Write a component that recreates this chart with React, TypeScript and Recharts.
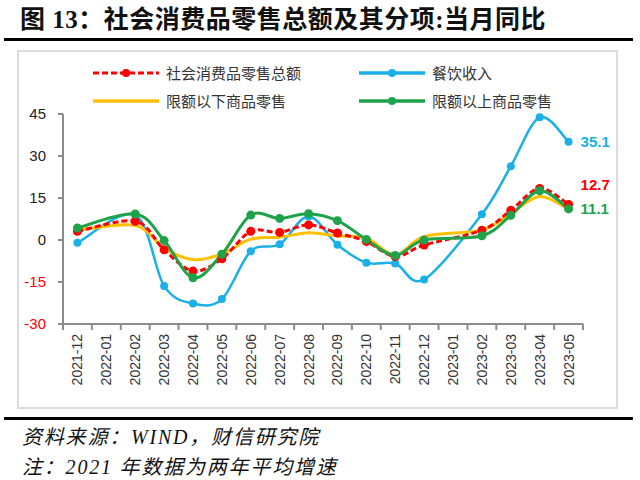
import React from "react";
import { LineChart, Line, XAxis, YAxis } from "recharts";

const months = [
  "2021-12", "2022-01", "2022-02", "2022-03", "2022-04", "2022-05",
  "2022-06", "2022-07", "2022-08", "2022-09", "2022-10", "2022-11",
  "2022-12", "2023-01", "2023-02", "2023-03", "2023-04", "2023-05",
];

// 社会消费品零售总额
const retailTotal = [3.1, null, 6.7, -3.5, -11.1, -6.7, 3.1, 2.7, 5.4, 2.5, -0.5, -5.9, -1.8, null, 3.5, 10.6, 18.4, 12.7];
// 餐饮收入
const catering = [-1.0, null, 8.9, -16.4, -22.7, -21.1, -4.0, -1.5, 8.4, -1.7, -8.1, -8.4, -14.1, null, 9.2, 26.3, 43.8, 35.1];
// 限额以下商品零售
const belowQuota = [3.5, null, 5.2, -3.0, -7.0, -5.0, 0.3, 1.0, 2.6, 1.4, 0.7, -5.4, 1.2, null, 3.6, 9.5, 15.5, 11.0];
// 限额以上商品零售
const aboveQuota = [4.3, null, 9.3, -0.2, -13.5, -5.1, 8.9, 7.7, 9.4, 6.9, 0.2, -5.5, 0.0, null, 1.5, 8.8, 17.6, 11.1];

const yTicks = [-30, -15, 0, 15, 30, 45];

const data = months.map((m, i) => ({
  month: m,
  retailTotal: retailTotal[i],
  catering: catering[i],
  belowQuota: belowQuota[i],
  aboveQuota: aboveQuota[i],
}));

const RED = "#FF0000";
const BLUE = "#1AAFE6";
const YELLOW = "#FFC000";
const GREEN = "#1FA34A";
const AXIS = "#8C8C8C";

const CHART_W = 640;
const CHART_H = 480;
const MARGIN = { top: 114, right: 57, bottom: 96, left: 18 };
const Y_AXIS_W = 45;
const PLOT_W = CHART_W - MARGIN.left - MARGIN.right - Y_AXIS_W;
const BAND = PLOT_W / months.length;
const LAST = months.length - 1;

// Excel-style smoothed line (Catmull-Rom through the points)
const smoothCurve = (ctx: any) => {
  let pts: number[][] = [];
  return {
    areaStart() {},
    areaEnd() {},
    lineStart() {
      pts = [];
    },
    point(x: number, y: number) {
      pts.push([+x, +y]);
    },
    lineEnd() {
      if (!pts.length) return;
      ctx.moveTo(pts[0][0], pts[0][1]);
      for (let i = 0; i < pts.length - 1; i++) {
        const p0 = pts[i - 1] || pts[i];
        const p1 = pts[i];
        const p2 = pts[i + 1];
        const p3 = pts[i + 2] || p2;
        ctx.bezierCurveTo(
          p1[0] + (p2[0] - p0[0]) / 6,
          p1[1] + (p2[1] - p0[1]) / 6,
          p2[0] - (p3[0] - p1[0]) / 6,
          p2[1] - (p3[1] - p1[1]) / 6,
          p2[0],
          p2[1]
        );
      }
    },
  };
};

const XTick = (props: any) => {
  const { x, y, payload, index } = props;
  return (
    <g>
      <line x1={x - BAND / 2} x2={x - BAND / 2} y1={y} y2={y + 6} stroke={AXIS} strokeWidth={2} />
      {index === LAST && (
        <line x1={x + BAND / 2} x2={x + BAND / 2} y1={y} y2={y + 6} stroke={AXIS} strokeWidth={2} />
      )}
      <text
        transform={`translate(${x + 5},${y + 10}) rotate(-90)`}
        textAnchor="end"
        fontSize={14}
        fill="#333"
        fontFamily='"Liberation Sans", Arial, sans-serif'
      >
        {payload.value}
      </text>
    </g>
  );
};

const YTick = (props: any) => {
  const { x, y, payload } = props;
  return (
    <text
      x={x - 10}
      y={y}
      dy={5}
      textAnchor="end"
      fontSize={15}
      fill={payload.value < 0 ? RED : "#222"}
      fontFamily='"Liberation Sans", Arial, sans-serif'
    >
      {payload.value}
    </text>
  );
};

const endLabel = (color: string, dy: number) => (props: any) => {
  const { x, y, value, index } = props;
  if (index !== LAST || value == null) return null;
  return (
    <text
      x={x + 12}
      y={y + dy}
      dy={5}
      fontSize={15}
      fontWeight="bold"
      fill={color}
      fontFamily='"Liberation Sans", Arial, sans-serif'
    >
      {value.toFixed(1)}
    </text>
  );
};

const LegendItem = ({ left, top, color, dashed, dot, text }: any) => (
  <div style={{ position: "absolute", left, top, display: "flex", alignItems: "center" }}>
    <svg width={68} height={10}>
      <line
        x1={1}
        x2={67}
        y1={5}
        y2={5}
        stroke={color}
        strokeWidth={dashed ? 3 : 3.5}
        strokeDasharray={dashed ? "6 3" : undefined}
      />
      {dot && <circle cx={34} cy={5} r={4} fill={color} />}
    </svg>
    <span
      style={{
        marginLeft: 6,
        fontSize: 15,
        color: "#333",
        fontFamily: '"Noto Sans CJK SC", sans-serif',
        whiteSpace: "nowrap",
      }}
    >
      {text}
    </span>
  </div>
);

export default function App() {
  return (
    <div
      style={{
        position: "fixed",
        left: 0,
        top: 0,
        width: CHART_W,
        height: CHART_H,
        background: "#fff",
        overflow: "hidden",
      }}
    >
      <div
        style={{
          position: "absolute",
          left: 20,
          top: 4,
          fontSize: 25,
          fontWeight: "bold",
          color: "#111",
          fontFamily: '"Liberation Serif", "Noto Sans CJK SC", serif',
          whiteSpace: "nowrap",
          lineHeight: "32px",
          letterSpacing: 0.5,
        }}
      >
        图 13：社会消费品零售总额及其分项:当月同比
      </div>
      <div style={{ position: "absolute", left: 4, top: 38, width: 629, height: 3, background: "#000" }} />
      <div
        style={{
          position: "absolute",
          left: 17,
          top: 50,
          width: 597,
          height: 355,
          border: "2px solid #DCDCDC",
        }}
      />
      <div style={{ position: "absolute", left: 4, top: 417, width: 629, height: 3, background: "#000" }} />

      <LegendItem left={92} top={62} color={RED} dashed dot text="社会消费品零售总额" />
      <LegendItem left={358} top={62} color={BLUE} dot text="餐饮收入" />
      <LegendItem left={92} top={90} color={YELLOW} text="限额以下商品零售" />
      <LegendItem left={358} top={90} color={GREEN} dot text="限额以上商品零售" />

      <div style={{ position: "absolute", left: 0, top: 0 }}>
        <LineChart width={CHART_W} height={CHART_H} data={data} margin={MARGIN}>
          <XAxis
            dataKey="month"
            interval={0}
            padding={{ left: BAND / 2, right: BAND / 2 }}
            tickLine={false}
            tickSize={0}
            tickMargin={0}
            height={60}
            stroke={AXIS}
            strokeWidth={2}
            tick={<XTick />}
          />
          <YAxis
            width={Y_AXIS_W}
            domain={[-30, 45]}
            ticks={yTicks}
            interval={0}
            stroke={AXIS}
            strokeWidth={2}
            tickSize={5}
            tick={<YTick />}
          />
          <Line
            dataKey="catering"
            type={smoothCurve as any}
            stroke={BLUE}
            strokeWidth={2.5}
            dot={{ r: 4, fill: BLUE, stroke: BLUE, strokeWidth: 0 }}
            connectNulls
            isAnimationActive={false}
            label={endLabel(BLUE, 0)}
          />
          <Line
            dataKey="belowQuota"
            type={smoothCurve as any}
            stroke={YELLOW}
            strokeWidth={3}
            dot={false}
            connectNulls
            isAnimationActive={false}
          />
          <Line
            dataKey="retailTotal"
            type={smoothCurve as any}
            stroke={RED}
            strokeWidth={3}
            strokeDasharray="6 3"
            dot={{ r: 4.5, fill: RED, stroke: RED, strokeWidth: 0 }}
            connectNulls
            isAnimationActive={false}
            label={endLabel(RED, -19)}
          />
          <Line
            dataKey="aboveQuota"
            type={smoothCurve as any}
            stroke={GREEN}
            strokeWidth={3}
            dot={{ r: 4.5, fill: GREEN, stroke: GREEN, strokeWidth: 0 }}
            connectNulls
            isAnimationActive={false}
            label={endLabel(GREEN, 0)}
          />
        </LineChart>
      </div>

      <div
        style={{
          position: "absolute",
          left: 22,
          top: 422,
          fontSize: 20,
          fontStyle: "italic",
          color: "#111",
          fontFamily: '"Liberation Serif", "Noto Sans CJK SC", serif',
          lineHeight: "30px",
          letterSpacing: 1.8,
          whiteSpace: "nowrap",
        }}
      >
        <div>资料来源：WIND，财信研究院</div>
        <div>注：2021 年数据为两年平均增速</div>
      </div>
    </div>
  );
}
